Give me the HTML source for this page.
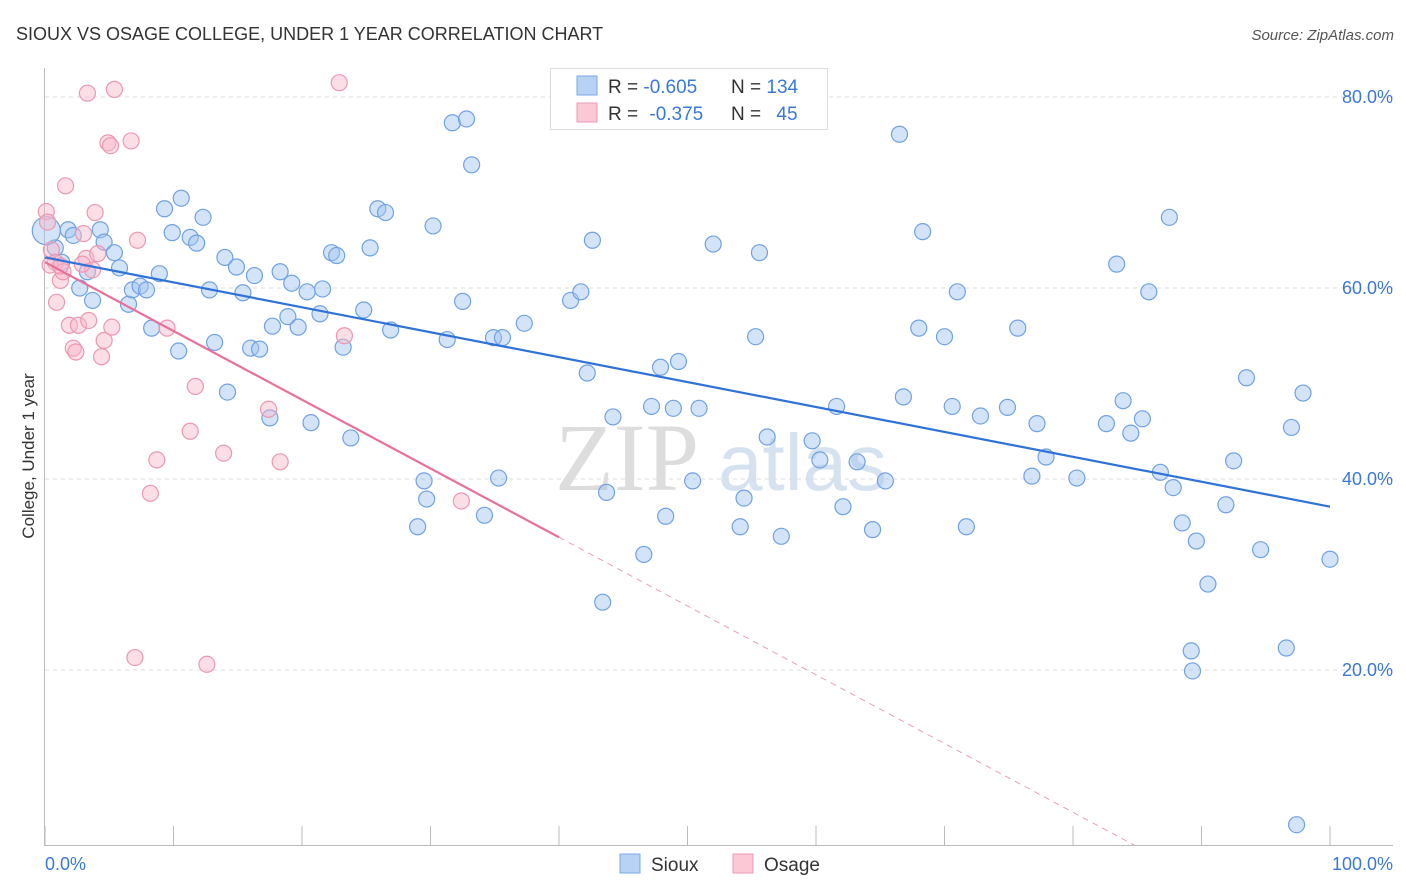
<!DOCTYPE html>
<html><head><meta charset="utf-8"><style>
body{margin:0;background:#fff;font-family:"Liberation Sans",sans-serif;}
#wrap{position:relative;width:1406px;height:892px;overflow:hidden;}
</style></head><body>
<div id="wrap">
<svg id="svg" width="1406" height="892" xmlns="http://www.w3.org/2000/svg">
<text x="16" y="40" font-size="18" fill="#333" font-family="Liberation Sans, sans-serif">SIOUX VS OSAGE COLLEGE, UNDER 1 YEAR CORRELATION CHART</text>
<text x="1394" y="40" font-size="15" fill="#555" font-style="italic" text-anchor="end" font-family="Liberation Sans, sans-serif">Source: ZipAtlas.com</text>
<text transform="translate(34,456) rotate(-90)" font-size="17" fill="#333" text-anchor="middle">College, Under 1 year</text>
<text x="555" y="490" font-size="96" fill="#ddd" font-family="Liberation Serif, serif">ZIP</text>
<text x="718" y="490" font-size="80" fill="#d6e2f0">atlas</text>
<g id="grid"></g><g id="axes"></g><g id="pts"></g><g id="lines"></g>
<g>
<rect x="550.5" y="68.5" width="277" height="61" fill="#fff" stroke="#ddd"/>
<rect x="577" y="76" width="20" height="19" fill="#b8d2f5" stroke="#7aaae8"/>
<rect x="577" y="103" width="20" height="19" fill="#fbc8d6" stroke="#ee9ab4"/>
<text x="608" y="93" font-size="19" fill="#333">R = <tspan fill="#3a78d8">-0.605</tspan></text>
<text x="731" y="93" font-size="19" fill="#333">N = <tspan fill="#3a78d8">134</tspan></text>
<text x="608" y="120" font-size="19" fill="#333">R =  <tspan fill="#3a78d8" dx="6">-0.375</tspan></text>
<text x="731" y="120" font-size="19" fill="#333">N = <tspan fill="#3a78d8" dx="10">45</tspan></text>
</g>
<g>
<rect x="620" y="854" width="20" height="19" fill="#b8d2f5" stroke="#7aaae8"/>
<text x="651" y="871" font-size="19" fill="#333">Sioux</text>
<rect x="733" y="854" width="20" height="19" fill="#fbc8d6" stroke="#ee9ab4"/>
<text x="764" y="871" font-size="19" fill="#333">Osage</text>
</g>
</svg>
</div>
<script>
const yTicks=[20,40,60,80];
const yTickLabels=["20.0%","40.0%","60.0%","80.0%"];
const xTicks=[0,10,20,30,40,50,60,70,80,90,100];
const xTickLabels=["0.0%","100.0%"];
const siouxX=[0.8,1.8,2.2,1.3,3.3,2.7,3.7,4.3,4.6,5.4,5.8,6.5,6.8,7.4,7.9,8.3,8.9,9.3,9.9,10.6,11.3,11.8,12.3,10.4,12.8,13.2,14.0,14.2,14.9,15.4,16.0,16.3,16.7,17.5,17.7,18.3,18.9,19.2,19.7,20.4,20.7,21.4,21.6,22.3,22.7,23.2,23.8,24.8,25.3,25.9,26.5,26.9,29.0,29.5,29.7,30.2,31.3,31.7,32.5,32.8,33.2,34.2,34.9,35.3,35.6,37.3,40.9,41.7,42.2,42.6,43.4,43.7,44.2,46.6,47.2,47.9,48.3,48.9,49.3,50.4,50.9,52.0,54.1,54.4,55.3,55.6,56.2,57.3,59.7,60.3,62.1,61.6,63.2,64.4,65.4,66.5,66.8,68.0,68.3,70.0,70.6,71.0,71.7,72.8,74.9,75.7,76.8,77.2,77.9,80.3,82.6,83.4,83.9,84.5,85.4,85.9,86.8,87.5,87.8,88.5,89.2,89.3,89.6,90.5,91.9,92.5,93.5,94.6,96.6,97.0,97.9,100.0,97.4,0.1];
const siouxY=[64.2,66.1,65.5,62.7,61.7,60.0,58.7,66.1,64.8,63.7,62.1,58.3,59.8,60.2,59.8,55.8,61.5,68.3,65.8,69.4,65.3,64.7,67.4,53.4,59.8,54.3,63.2,49.1,62.2,59.5,53.7,61.3,53.6,46.4,56.0,61.7,57.0,60.5,55.9,59.6,45.9,57.3,59.9,63.7,63.4,53.8,44.3,57.7,64.2,68.3,67.9,55.6,35.0,39.8,37.9,66.5,54.6,77.3,58.6,77.7,72.9,36.2,54.8,40.1,54.8,56.3,58.7,59.6,51.1,65.0,27.1,38.6,46.5,32.1,47.6,51.7,36.1,47.4,52.3,39.8,47.4,64.6,35.0,38.0,54.9,63.7,44.4,34.0,44.0,42.0,37.1,47.6,41.8,34.7,39.8,76.1,48.6,55.8,65.9,54.9,47.6,59.6,35.0,46.6,47.5,55.8,40.3,45.8,42.3,40.1,45.8,62.5,48.2,44.8,46.3,59.6,40.7,67.4,39.1,35.4,22.0,19.9,33.5,29.0,37.3,41.9,50.6,32.6,22.3,45.4,49.0,31.6,3.8,66.0];
const osageX=[0.1,0.2,0.5,0.8,0.4,0.9,1.2,1.4,1.6,1.9,2.2,2.4,2.6,3.0,3.2,3.4,3.7,3.9,4.1,4.4,4.6,4.9,5.2,3.3,5.4,6.7,7.2,8.2,8.7,7.0,9.5,11.7,11.3,12.6,13.9,17.4,18.3,22.9,23.3,32.4,2.9,1.2,5.1];
const osageY=[68.0,66.9,64.0,62.7,62.4,58.5,60.8,61.7,70.7,56.1,53.7,53.3,56.1,65.7,63.1,56.6,61.9,67.9,63.6,52.8,54.5,75.2,55.9,80.4,80.8,75.4,65.0,38.5,42.0,21.3,55.8,49.7,45.0,20.6,42.7,47.3,41.8,81.5,55.0,37.7,62.5,62.3,74.9];
const siouxFit=[63.2,37.1];
const osageFit=[62.7,-0.72];
const osageSolidEnd=40;
const NS="http://www.w3.org/2000/svg";
const X0=45,X1=1330,Y0=861,PY=9.55;
const yMin=(Y0-845)/PY;
function sx(v){return X0+(X1-X0)*v/100;}
function sy(v){return Y0-v*PY;}
function mk(tag,attrs,parent){const e=document.createElementNS(NS,tag);for(const k in attrs)e.setAttribute(k,attrs[k]);document.getElementById(parent).appendChild(e);return e;}
yTicks.forEach((t,i)=>{
 const l=mk('line',{x1:45,x2:1393,y1:sy(t),y2:sy(t),stroke:'#ddd','stroke-dasharray':'4,4'},'grid');
 
 
 const tx=mk('text',{x:1393,y:sy(t)+6,'font-size':18,fill:'#3a78d8','text-anchor':'end'},'grid');
 tx.textContent=yTickLabels[i];
 
 
});
const ax=mk('line',{x1:44.5,x2:44.5,y1:68,y2:845,stroke:'#bbb'},'axes');


const bx=mk('line',{x1:44,x2:1393,y1:845.5,y2:845.5,stroke:'#bbb'},'axes');


xTicks.forEach(t=>{
 const l=mk('line',{x1:sx(t),x2:sx(t),y1:826,y2:845,stroke:'#bbb'},'axes');
 
 
});
const xl0=mk('text',{x:45,y:870,'font-size':18,fill:'#3a78d8'},'axes');xl0.textContent=xTickLabels[0];


const xl1=mk('text',{x:1393,y:870,'font-size':18,fill:'#3a78d8','text-anchor':'end'},'axes');xl1.textContent=xTickLabels[1];


siouxX.forEach((v,i)=>{
 const c=mk('circle',{cx:sx(v),cy:sy(siouxY[i]),r:i===siouxX.length-1?14:8,fill:'rgba(160,196,240,0.45)',stroke:'#6fa2e2','stroke-width':1.2},'pts');
 
 
});
osageX.forEach((v,i)=>{
 const c=mk('circle',{cx:sx(v),cy:sy(osageY[i]),r:8,fill:'rgba(248,182,202,0.45)',stroke:'#ec98b2','stroke-width':1.2},'pts');
 
 
});
const bl=mk('line',{x1:sx(0),y1:sy(siouxFit[0]),x2:sx(100),y2:sy(siouxFit[1]),stroke:'#2f72d8','stroke-width':2.2},'lines');


const oy=x=>osageFit[0]+osageFit[1]*x;
const pl=mk('line',{x1:sx(0),y1:sy(oy(0)),x2:sx(osageSolidEnd),y2:sy(oy(osageSolidEnd)),stroke:'#e8709a','stroke-width':2.2},'lines');


const xEnd=(yMin-osageFit[0])/osageFit[1];
const pd=mk('line',{x1:sx(osageSolidEnd),y1:sy(oy(osageSolidEnd)),x2:sx(xEnd),y2:sy(yMin),stroke:'#e8a0b8','stroke-width':1,'stroke-dasharray':'6,5'},'lines');


</script>
</body></html>
